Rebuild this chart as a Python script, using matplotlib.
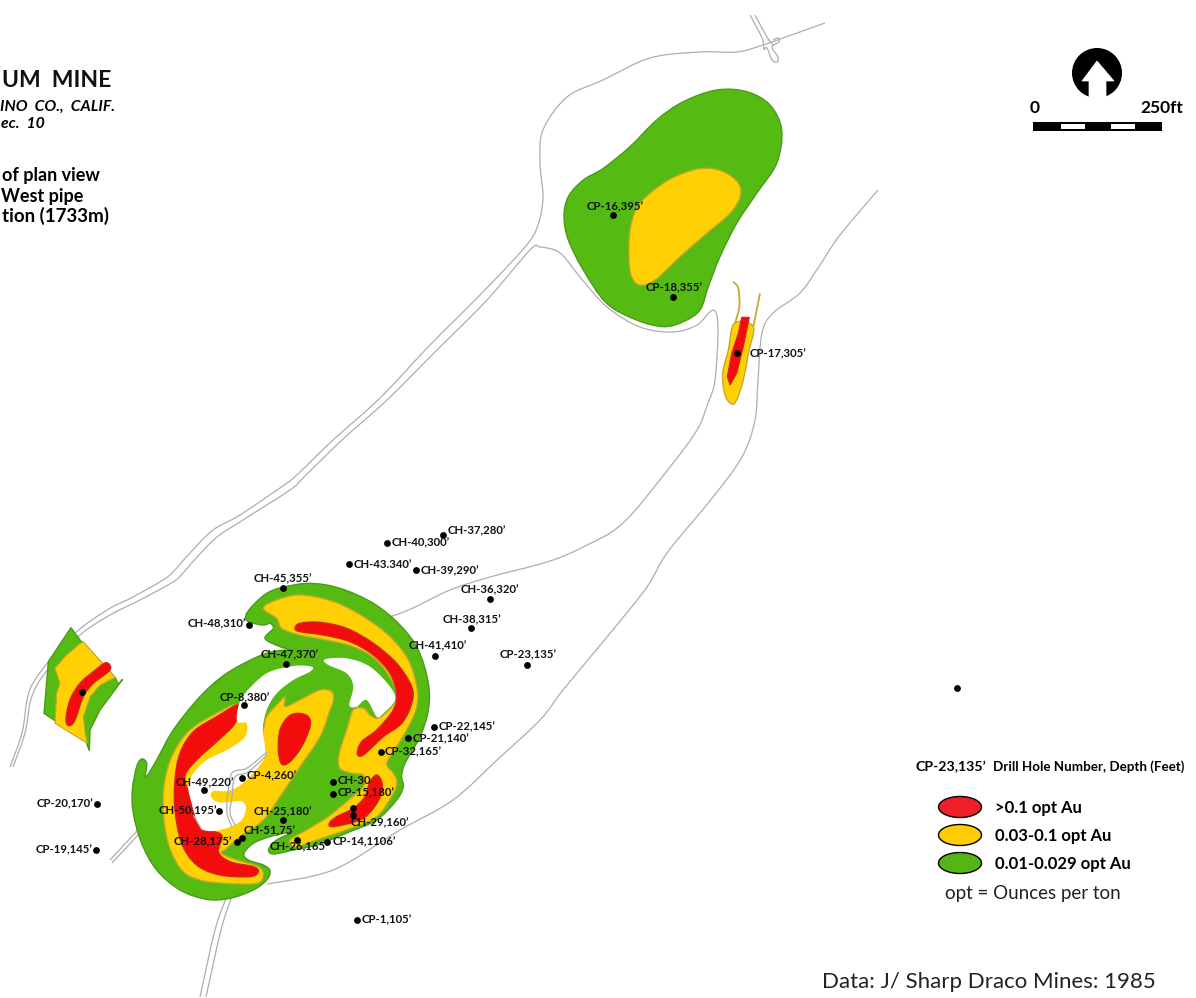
import numpy as np
import matplotlib
matplotlib.use('Agg')
import matplotlib.pyplot as plt
from matplotlib.path import Path
from matplotlib.patches import PathPatch, Ellipse, Circle, Rectangle, Polygon

plt.rcParams['font.family'] = ['Lato', 'DejaVu Sans']

GREEN, GREEN_EDGE = '#55bb12', '#4b9a1c'
YELLOW, YELLOW_EDGE = '#ffd105', '#c9a62e'
RED, RED_EDGE = '#f20c0c', '#d4261a'
ROAD = '#aeaeae'

# --- drill holes: label, hole x, hole y, label x, label y ---
hole_labels = ["CH-37,280’", "CH-40,300’", "CH-43.340’", "CH-39,290’", "CH-36,320’", "CH-45,355’",
               "CH-38,315’", "CH-48,310’", "CH-41,410’", "CP-23,135’", "CH-47,370’", "CP-8,380’",
               "CP-22,145’", "CP-21,140’", "CP-32,165’", "CP-4,260’", "CH-49,220’", "CH-30",
               "CP-15,180’", "CP-20,170’", "CH-50,195’", "CH-25,180’", "CH-29,160’", "CH-51,75’",
               "CH-28,175’", "CH-26,165’", "CP-14,1106’", "CP-19,145’", "CP-1,105’", "CP-16,395’",
               "CP-18,355’", "CP-17,305’"]
hole_x = [443, 387, 349, 416, 490, 283, 471, 249, 435, 527, 286, 244, 434, 408, 381, 242, 204, 333,
          333, 97, 219, 283, 353, 242, 237, 297, 327, 96, 357, 613, 673, 737]
hole_y = [535, 543, 564, 570, 599, 588, 628, 625, 656, 665, 664, 705, 727, 738, 752, 778, 790, 782,
          794, 804, 811, 820, 815, 838, 842, 840, 842, 850, 920, 215, 297, 353]
label_x = [448, 392, 354, 421, 461, 254, 443, 188, 409, 500, 261, 220, 439, 413, 385, 247, 176, 338,
           338, 37, 159, 254, 351, 244, 174, 270, 333, 36, 362, 587, 646, 750]
label_y = [531, 543, 564, 571, 590, 579, 620, 624, 646, 655, 655, 698, 727, 739, 752, 776, 783, 781,
           793, 804, 811, 812, 823, 831, 842, 847, 842, 850, 920, 207, 288, 354]
extra_x = [82, 957, 353]
extra_y = [692, 688, 808]

main_green = [(848, 82), (930, 70), (1020, 85), (1120, 130), (1200, 195), (1255, 270), (1285, 370),
              (1285, 450), (1260, 530), (1215, 610), (1205, 650), (1210, 680), (1190, 720), (1130, 780),
              (1050, 815), (950, 855), (880, 870), (820, 882), (806, 868), (830, 840), (880, 815),
              (810, 830), (760, 850), (732, 880), (745, 900), (790, 915), (810, 932), (800, 960),
              (760, 990), (690, 1015), (620, 1018), (540, 990), (470, 930), (425, 850), (400, 760),
              (397, 690), (410, 620), (425, 597), (440, 610), (438, 650), (470, 600), (520, 510),
              (600, 410), (680, 340), (780, 287), (835, 272), (870, 270), (835, 258), (795, 235),
              (820, 205), (810, 190), (790, 195), (745, 185), (738, 165), (760, 135), (800, 100)]
right_yellow = [(790, 145), (830, 120), (900, 105), (1000, 125), (1090, 170), (1170, 230), (1225, 300),
                (1250, 380), (1250, 440), (1225, 500), (1190, 560), (1160, 610), (1180, 640), (1190, 665),
                (1180, 700), (1130, 770), (1050, 805), (950, 840), (885, 860), (870, 840), (920, 810),
                (985, 770), (1040, 725), (1090, 680), (1090, 645), (1060, 640), (1020, 625), (1018, 580),
                (1040, 510), (1060, 450), (1090, 445), (1110, 465), (1130, 475), (1150, 465), (1190, 420),
                (1180, 370), (1130, 300), (1060, 260), (980, 240), (900, 225), (845, 205), (830, 175)]
left_yellow = [(715, 435), (650, 460), (570, 510), (520, 580), (495, 660), (490, 750), (505, 850),
               (545, 930), (600, 960), (680, 970), (770, 970), (790, 945), (775, 920), (710, 900),
               (665, 880), (680, 865), (720, 830), (790, 780), (840, 710), (900, 620), (960, 530),
               (990, 450), (1000, 420), (995, 395), (960, 390), (900, 420), (855, 440), (855, 412),
               (835, 430), (800, 470), (788, 510), (760, 500)]
upper_red = [(885, 205), (900, 190), (960, 187), (1040, 205), (1120, 250), (1190, 310), (1235, 380),
             (1235, 430), (1205, 490), (1150, 530), (1090, 585), (1072, 580), (1085, 545), (1130, 510),
             (1180, 450), (1190, 400), (1170, 340), (1120, 285), (1050, 245), (970, 225), (900, 215)]
lower_red = [(1130, 645), (1145, 665), (1145, 700), (1120, 745), (1080, 780), (1000, 800), (988, 790),
             (1010, 770), (1060, 745), (1095, 710), (1110, 665)]
left_red = [(715, 435), (650, 470), (580, 515), (540, 580), (525, 660), (525, 750), (545, 850), (590, 915),
            (660, 945), (750, 950), (775, 935), (760, 920), (690, 905), (655, 875), (665, 825), (610, 800),
            (575, 720), (555, 650), (590, 600), (650, 545), (705, 490)]
center_red = [(895, 460), (925, 470), (930, 500), (905, 560), (870, 605), (845, 612), (835, 570),
              (840, 510), (865, 470)]
hole_a = [(935, 320), (880, 318), (800, 340), (735, 400), (715, 440), (712, 485), (740, 490), (735, 530),
          (690, 565), (620, 600), (580, 640), (565, 680), (575, 730), (590, 780), (610, 810), (660, 810),
          (720, 785), (738, 745), (725, 724), (690, 726), (655, 727), (634, 712), (640, 693), (690, 692),
          (740, 660), (790, 600), (795, 560), (788, 510), (800, 450), (830, 400), (880, 360), (930, 335)]
hole_b = [(975, 298), (1040, 295), (1110, 320), (1170, 380), (1185, 420), (1150, 460), (1130, 470),
          (1100, 420), (1070, 440), (1048, 435), (1060, 380), (1040, 340), (985, 315)]

frag_green = [(213, 203), (240, 240), (345, 352), (355, 372), (368, 358), (300, 450), (270, 510), (268, 572),
              (258, 545), (132, 460), (145, 305)]
frag_yellow = [(250, 245), (345, 352), (300, 375), (270, 410), (250, 470), (255, 520), (262, 550), (165, 490),
               (170, 400), (180, 370), (165, 325), (195, 290), (235, 255)]
frag_red = [(318, 308), (330, 330), (280, 370), (250, 410), (225, 480), (208, 497), (198, 480), (210, 420),
            (240, 370), (280, 335)]

north_green = [(530, 30), (620, 35), (690, 75), (725, 150), (710, 250), (650, 340), (590, 430), (540, 530),
               (505, 620), (480, 690), (430, 725), (370, 740), (290, 720), (200, 670), (130, 570), (85, 480),
               (72, 410), (85, 350), (130, 300), (190, 265), (270, 200), (350, 120), (430, 65)]
north_yellow = [(490, 265), (550, 275), (595, 310), (600, 350), (570, 400), (500, 460), (420, 530), (345, 600),
                (300, 615), (275, 590), (267, 530), (272, 440), (300, 370), (370, 310), (430, 280)]
pipe_yellow = [(583, 730), (640, 740), (625, 820), (610, 900), (590, 960), (575, 972), (555, 945), (548, 880),
               (565, 810)]
pipe_red = [(605, 712), (628, 712), (610, 800), (590, 880), (570, 915), (562, 890), (575, 820), (595, 760)]
pipe_strand_a = [(580, 605), (595, 625), (598, 680), (585, 730)]
pipe_strand_b = [(660, 640), (640, 740)]

# --- roads, image pixels ---
road_outer = [(10, 767), (22, 733), (27, 700), (33, 683), (50, 660), (75, 633), (107, 610), (133, 597), (163, 580),
              (173, 572), (190, 553), (213, 530), (240, 515), (287, 483), (300, 472), (333, 440), (380, 398),
              (430, 345), (480, 295), (525, 247), (538, 225), (543, 197), (540, 163), (543, 130), (567, 97),
              (603, 80), (650, 58), (700, 52), (737, 52), (763, 45), (783, 38), (825, 23)]
road_inner = [(13, 767), (25, 733), (30, 703), (37, 685), (50, 667), (80, 635), (110, 615), (140, 600), (173, 582),
              (183, 573), (197, 557), (217, 537), (243, 520), (290, 490), (303, 478), (342, 440), (387, 400),
              (437, 350), (487, 300), (530, 250), (540, 247), (560, 253), (580, 277), (607, 307), (640, 327),
              (673, 332), (697, 325), (713, 310), (718, 327), (715, 380), (708, 403), (697, 430), (670, 467),
              (623, 523), (583, 547), (547, 562), (490, 577), (450, 590), (413, 608), (390, 617)]
road_right = [(878, 190), (840, 235), (820, 265), (800, 293), (773, 313), (762, 333), (758, 380), (755, 420),
              (742, 457), (713, 497), (667, 553), (647, 587), (607, 637), (563, 690), (540, 720), (497, 760),
              (453, 800), (400, 830), (333, 870), (267, 884)]
road_south_a = [(200, 997), (215, 930), (227, 896)]
road_south_b = [(206, 997), (221, 930), (232, 896)]
road_west_a = [(110, 860), (137, 831)]
road_west_b = [(112, 863), (139, 834)]
road_top_a = [(750, 15), (762, 38), (764, 50)]
road_top_b = [(755, 15), (767, 37), (773, 45)]
road_top_c = [(764, 50), (767, 48), (772, 60), (777, 62), (778, 57), (772, 47), (779, 42), (778, 38), (773, 40)]
road_hole_a = [(267, 752), (247, 768), (232, 773), (228, 793), (227, 813), (232, 827)]
road_hole_b = [(267, 755), (248, 772), (235, 777), (232, 797), (230, 813), (235, 825)]
road_hole_c = [(192, 813), (202, 830)]


def crop(pts, x0, y0):
    # 3x zoom coordinates back to image pixels
    return [(x0 + x / 3, y0 + y / 3) for x, y in pts]


def blob(pts, closed=True):
    # smooth outline through the traced points (catmull-rom as beziers)
    p = np.array(pts, dtype=float)
    n = len(p)
    verts = [p[0]]
    codes = [Path.MOVETO]
    for i in range(n if closed else n - 1):
        if closed:
            p0, p1, p2, p3 = p[i - 1], p[i], p[(i + 1) % n], p[(i + 2) % n]
        else:
            p0, p1, p2, p3 = p[max(i - 1, 0)], p[i], p[i + 1], p[min(i + 2, n - 1)]
        verts += [p1 + (p2 - p0) / 6, p2 - (p3 - p1) / 6, p2]
        codes += [Path.CURVE4] * 3
    return Path(verts, codes)


def add_blob(ax, pts, fc, ec, lw=1.0, z=3):
    patch = PathPatch(blob(pts), facecolor=fc, edgecolor=ec, linewidth=lw, zorder=z)
    ax.add_patch(patch)
    return patch


def add_line(ax, pts, color=ROAD, lw=0.9, z=1):
    ax.add_patch(PathPatch(blob(pts, closed=False), facecolor='none', edgecolor=color, linewidth=lw, zorder=z))


fig = plt.figure(figsize=(11.96, 9.98), dpi=100)
ax = fig.add_axes([0, 0, 1, 1])
ax.set_xlim(0, 1196)
ax.set_ylim(998, 0)
ax.axis('off')

all_roads = [road_outer, road_inner, road_right, road_south_a, road_south_b, road_west_a, road_west_b,
             road_top_a, road_top_b, road_top_c]
for r in all_roads:
    add_line(ax, r)

# north body
add_blob(ax, crop(north_green, 540, 80), GREEN, GREEN_EDGE)
add_blob(ax, crop(north_yellow, 540, 80), YELLOW, YELLOW_EDGE)

# small pipe by CP-17
add_blob(ax, crop(pipe_yellow, 540, 80), YELLOW, YELLOW_EDGE)
ax.add_patch(Polygon(crop(pipe_red, 540, 80), fc=RED, ec=RED_EDGE, lw=0.8, zorder=4))
add_line(ax, crop(pipe_strand_a, 540, 80), color=YELLOW_EDGE, lw=1.3, z=3)
add_line(ax, crop(pipe_strand_b, 540, 80), color=YELLOW_EDGE, lw=1.3, z=3)

# west fragment
ax.add_patch(Polygon(crop(frag_green, 0, 560), fc=GREEN, ec=GREEN_EDGE, lw=1, zorder=3))
ax.add_patch(Polygon(crop(frag_yellow, 0, 560), fc=YELLOW, ec=YELLOW_EDGE, lw=0.8, zorder=3))
add_blob(ax, crop(frag_red, 0, 560), RED, RED_EDGE, z=4)

# main body, holes go on top so the roads can be redrawn inside them
add_blob(ax, crop(main_green, 0, 560), GREEN, GREEN_EDGE)
add_blob(ax, crop(right_yellow, 0, 560), YELLOW, YELLOW_EDGE)
add_blob(ax, crop(left_yellow, 0, 560), YELLOW, YELLOW_EDGE)
for red in [upper_red, lower_red, left_red, center_red]:
    add_blob(ax, crop(red, 0, 560), RED, RED_EDGE, z=4)
add_blob(ax, crop(hole_a, 0, 560), 'white', 'none', z=5)
add_blob(ax, crop(hole_b, 0, 560), 'white', 'none', z=5)
for r in [road_hole_a, road_hole_b, road_hole_c]:
    add_line(ax, r, z=6)

# drill holes
ax.scatter(hole_x + extra_x, hole_y + extra_y, s=24, c='black', zorder=8, linewidths=0)
for name, x, y in zip(hole_labels, label_x, label_y):
    ax.text(x, y, name, fontsize=8.2, fontweight='bold', ha='left', va='center', color='#111111', zorder=9)

# title, runs off the left edge in the source
ax.text(111, 80, "UM  MINE", fontsize=16.5, fontweight='bold', ha='right', va='center', color='#111111')
ax.text(115, 107, "INO  CO.,  CALIF.", fontsize=11.3, fontweight='bold', style='italic', ha='right', va='center')
ax.text(45, 124, "ec.  10", fontsize=11.3, fontweight='bold', style='italic', ha='right', va='center')
ax.text(100, 175, "of plan view", fontsize=13, fontweight='bold', ha='right', va='center')
ax.text(83, 196, "West pipe", fontsize=13, fontweight='bold', ha='right', va='center')
ax.text(109, 216, "tion (1733m)", fontsize=13.5, fontweight='bold', ha='right', va='center')

# north arrow + scale
ax.add_patch(Circle((1097, 73), 25, fc='black', ec='none', zorder=3))
ax.add_patch(Polygon([(1097, 61), (1082, 81), (1089, 81), (1089, 100), (1106, 100), (1106, 81), (1114, 81)],
                     fc='white', ec='white', lw=0.5, zorder=4))
ax.add_patch(Rectangle((1033, 122), 129, 9, fc='black', ec='none'))
ax.add_patch(Rectangle((1061, 124), 24, 5, fc='white', ec='none', zorder=3))
ax.add_patch(Rectangle((1111, 124), 24, 5, fc='white', ec='none', zorder=3))
ax.text(1035, 108, "0", fontsize=12.5, fontweight='bold', ha='center', va='center')
ax.text(1183, 108, "250ft", fontsize=12.5, fontweight='bold', ha='right', va='center')

# legend
ax.text(916, 767, "CP-23,135’", fontsize=10.2, fontweight='bold', ha='left', va='center')
ax.text(993, 767, "Drill Hole Number, Depth (Feet)", fontsize=9.6, fontweight='bold', ha='left', va='center')
legend_labels = [">0.1 opt Au", "0.03-0.1 opt Au", "0.01-0.029 opt Au"]
legend_colors = ['#ee2027', '#ffcb05', '#56b516']
legend_y = [807, 835, 863]
for lab, col, y in zip(legend_labels, legend_colors, legend_y):
    ax.add_patch(Ellipse((960, y), 43, 21, fc=col, ec='black', lw=1))
    ax.text(995, y + 1, lab, fontsize=12, fontweight='bold', ha='left', va='center')
ax.text(945, 894, "opt = Ounces per ton", fontsize=13.5, ha='left', va='center', color='#222222')
ax.text(822, 982, "Data: J/ Sharp Draco Mines: 1985", fontsize=16, ha='left', va='center', color='#222222')

plt.savefig('out.png', dpi=100)
plt.close()
